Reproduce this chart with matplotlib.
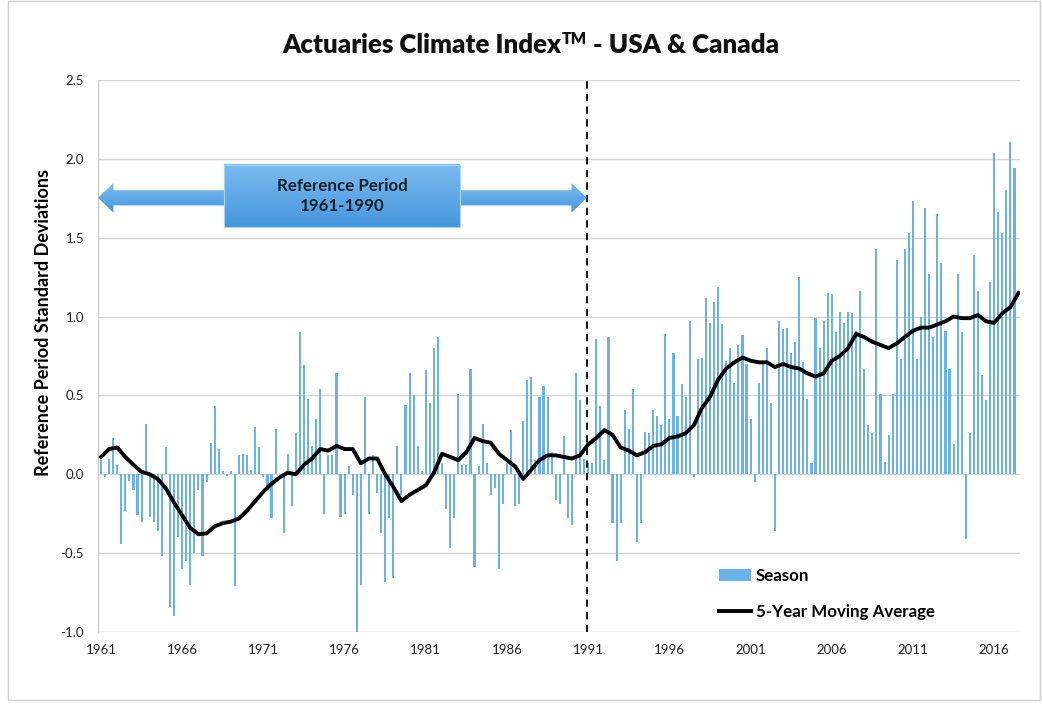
import numpy as np
import matplotlib
matplotlib.use('Agg')
import matplotlib.pyplot as plt
from matplotlib.patches import Polygon, Rectangle, Patch
from matplotlib.lines import Line2D
from matplotlib.colors import LinearSegmentedColormap

plt.rcParams['font.family'] = ['Lato', 'DejaVu Sans']

# seasonal index values, 4 per year starting 1961
first_year = 1961
season_values = [
    0.09, -0.02, 0.10, 0.23,   0.06, -0.44, -0.23, -0.04,   -0.10, -0.26, -0.30, 0.32,
    -0.27, -0.30, -0.36, -0.52,   0.17, -0.84, -0.90, -0.40,   -0.60, -0.55, -0.70, -0.50,
    -0.10, -0.52, -0.05, 0.20,   0.43, 0.16, 0.02, -0.01,   0.02, -0.71, 0.12, 0.13,
    0.12, 0.03, 0.30, 0.17,   -0.02, -0.10, -0.28, 0.29,   0.00, -0.37, 0.13, -0.20,
    0.26, 0.90, 0.69, 0.48,   0.18, 0.35, 0.54, -0.25,   0.12, 0.12, 0.64, -0.27,
    -0.25, 0.05, -0.13, -1.00,   -0.70, 0.49, -0.25, 0.12,   -0.12, -0.37, -0.68, -0.28,
    -0.66, 0.18, -0.13, 0.44,   0.64, 0.50, 0.18, 0.02,   0.66, 0.45, 0.80, 0.87,
    0.07, -0.22, -0.47, -0.28,   0.51, 0.06, 0.06, 0.67,   -0.59, 0.05, 0.32, 0.07,
    -0.13, -0.09, -0.60, -0.19,   0.07, 0.28, -0.20, -0.19,   0.34, 0.60, 0.62, 0.09,
    0.49, 0.56, 0.49, 0.14,   -0.16, -0.19, 0.24, -0.28,   -0.32, 0.64, 0.47, 0.10,
    0.07, 0.07, 0.86, 0.43,   0.09, 0.87, -0.31, -0.55,   -0.31, 0.41, 0.29, 0.54,
    -0.43, -0.31, 0.27, 0.26,   0.41, 0.37, 0.31, 0.89,   0.35, 0.77, 0.37, 0.57,
    0.49, 0.97, -0.02, 0.73,   0.74, 1.12, 0.96, 1.09,   1.19, 0.95, 0.72, 0.80,
    0.58, 0.82, 0.88, 0.70,   0.35, -0.05, 0.58, 0.70,   0.80, 0.45, -0.36, 0.97,
    0.92, 0.93, 0.77, 0.84,   1.25, 0.71, 0.48, 0.07,   0.99, 0.80, 0.97, 1.15,
    1.14, 0.90, 1.03, 0.96,   1.03, 1.02, 0.91, 1.16,   0.67, 0.31, 0.26, 1.43,
    0.51, 0.08, 0.25, 0.51,   1.36, 0.73, 1.43, 1.53,   1.73, 0.73, 1.00, 1.69,
    1.27, 0.87, 1.65, 1.34,   0.91, 0.67, 0.19, 1.27,   0.90, -0.41, 0.26, 1.39,
    1.16, 0.63, 0.47, 1.22,   2.04, 1.66, 1.53, 1.80,   2.11, 1.94,
]

# 5-year moving average, read every half year
moving_avg = [
    0.11, 0.16, 0.17, 0.11, 0.06, 0.015, 0.0, -0.03, -0.09, -0.18,
    -0.26, -0.34, -0.38, -0.375, -0.33, -0.31, -0.30, -0.28, -0.23, -0.17,
    -0.11, -0.06, -0.02, 0.01, 0.0, 0.06, 0.10, 0.16, 0.15, 0.18,
    0.16, 0.16, 0.07, 0.10, 0.10, 0.00, -0.08, -0.17, -0.13, -0.10,
    -0.07, 0.01, 0.13, 0.11, 0.09, 0.14, 0.23, 0.21, 0.20, 0.13,
    0.09, 0.05, -0.03, 0.03, 0.09, 0.12, 0.12, 0.11, 0.10, 0.12,
    0.19, 0.23, 0.28, 0.25, 0.17, 0.15, 0.12, 0.14, 0.18, 0.19,
    0.23, 0.24, 0.26, 0.31, 0.42, 0.49, 0.60, 0.67, 0.71, 0.74,
    0.72, 0.71, 0.71, 0.68, 0.70, 0.68, 0.67, 0.64, 0.62, 0.64,
    0.72, 0.75, 0.80, 0.89, 0.87, 0.84, 0.82, 0.80, 0.83, 0.87,
    0.91, 0.93, 0.93, 0.95, 0.97, 1.00, 0.99, 0.99, 1.01, 0.97,
    0.96, 1.02, 1.06, 1.15,
]

tick_years = list(range(1961, 2017, 5))
ref_start, ref_end = 1961, 1991

x_season = first_year + np.arange(len(season_values)) / 4
x_ma = first_year + np.arange(len(moving_avg)) / 2

W, H = 1042, 711
fig = plt.figure(figsize=(W / 100, H / 100), dpi=100)
ax = fig.add_axes([98 / W, 1 - 632 / H, 922 / W, 552 / H])

ax.bar(x_season, season_values, width=0.13, color='#6cb2e6', linewidth=0, zorder=2)
ax.plot(x_ma, moving_avg, color='black', lw=2.8, solid_joinstyle='round', zorder=4)
ax.axvline(ref_end - 0.08, color='black', lw=1.3, ls=(0, (4, 3)), zorder=3)

xmin, xmax = 1960.815, 2017.59
ymin, ymax = -1.0, 2.5

# reference period arrow and box
grad = np.linspace(0, 1, 100).reshape(-1, 1)
arrow_cmap = LinearSegmentedColormap.from_list('arr', ['#7cbcef', '#4596dc'])
yc, sh, hh, hl = 1.753, 0.048, 0.094, 0.95
x0, x1 = xmin, ref_end - 0.08
arrow_pts = [(x0, yc), (x0 + hl, yc + hh), (x0 + hl, yc + sh), (x1 - hl, yc + sh),
             (x1 - hl, yc + hh), (x1, yc), (x1 - hl, yc - hh), (x1 - hl, yc - sh),
             (x0 + hl, yc - sh), (x0 + hl, yc - hh)]
arrow = Polygon(arrow_pts, closed=True, facecolor='none', edgecolor='none')
ax.add_patch(arrow)
im = ax.imshow(grad, extent=(x0, x1, yc - hh, yc + hh), cmap=arrow_cmap,
               aspect='auto', origin='upper', zorder=5)
im.set_clip_path(arrow)

bx0, bx1, by0, by1 = 1968.57, 1983.10, 1.566, 1.96
ax.imshow(grad, extent=(bx0, bx1, by0, by1), cmap=arrow_cmap,
          aspect='auto', origin='upper', zorder=6)
ax.add_patch(Rectangle((bx0, by0), bx1 - bx0, by1 - by0, facecolor='none',
                       edgecolor='#a9d3f3', lw=0.8, zorder=7))
ax.text((bx0 + bx1) / 2, (by0 + by1) / 2, 'Reference Period\n%d-%d' % (ref_start, ref_end - 1),
        ha='center', va='center', fontsize=12.2, fontweight='bold', color='#14202c',
        linespacing=1.3, zorder=8)

ax.set_xlim(xmin, xmax)
ax.set_ylim(ymin, ymax)
ax.set_xticks(tick_years)
ax.set_xticklabels([str(y) for y in tick_years])
yticks = np.arange(-1.0, 2.51, 0.5)
ax.set_yticks(yticks)
ax.set_yticklabels(['%.1f' % v for v in yticks])
ax.tick_params(axis='both', length=0, labelsize=9.5, colors='#222222')
ax.tick_params(axis='x', pad=9)
ax.tick_params(axis='y', pad=10)
ax.grid(axis='y', color='#d4d4d4', lw=1.0, zorder=0)
ax.set_axisbelow(True)
for side in ['top', 'right', 'bottom']:
    ax.spines[side].set_visible(False)
ax.spines['left'].set_color('#c8c8c8')
ax.set_ylabel('Reference Period Standard Deviations', fontsize=13, fontweight='bold')
ax.yaxis.set_label_coords(-46 / 922, 0.56)

# title in three pieces so "TM" can sit raised and smaller, all bold
renderer = fig.canvas.get_renderer()
title_y = 1 - 53 / H
parts = [('Actuaries Climate Index', 18.6, 0), ('TM', 11.5, 9), (' - USA & Canada', 18.6, 0)]
texts = []
for s, size, rise in parts:
    t = fig.text(0, title_y + rise / H, s, ha='left', va='baseline', fontsize=size,
                 fontweight='heavy', color='#111111')
    texts.append(t)
widths = [t.get_window_extent(renderer).width for t in texts]
cursor = 531 - sum(widths) / 2
for t, w in zip(texts, widths):
    t.set_x(cursor / W)
    cursor += w

handles = [Patch(facecolor='#6cb2e6', edgecolor='none', label='Season'),
           Line2D([0], [0], color='black', lw=2.8, label='5-Year Moving Average')]
fig.legend(handles=handles, loc='upper left', bbox_to_anchor=(712 / W, 1 - 561 / H),
           frameon=False, prop={'size': 12.2, 'weight': 'bold'}, handlelength=1.9,
           handletextpad=0.3, labelspacing=1.2, borderaxespad=0)

fig.add_artist(Rectangle((8 / W, 1 - 700 / H), 1032 / W, 699 / H,
                         transform=fig.transFigure, facecolor='none',
                         edgecolor='#d0d0d0', lw=1.0))

fig.savefig('out.png', dpi=100)
